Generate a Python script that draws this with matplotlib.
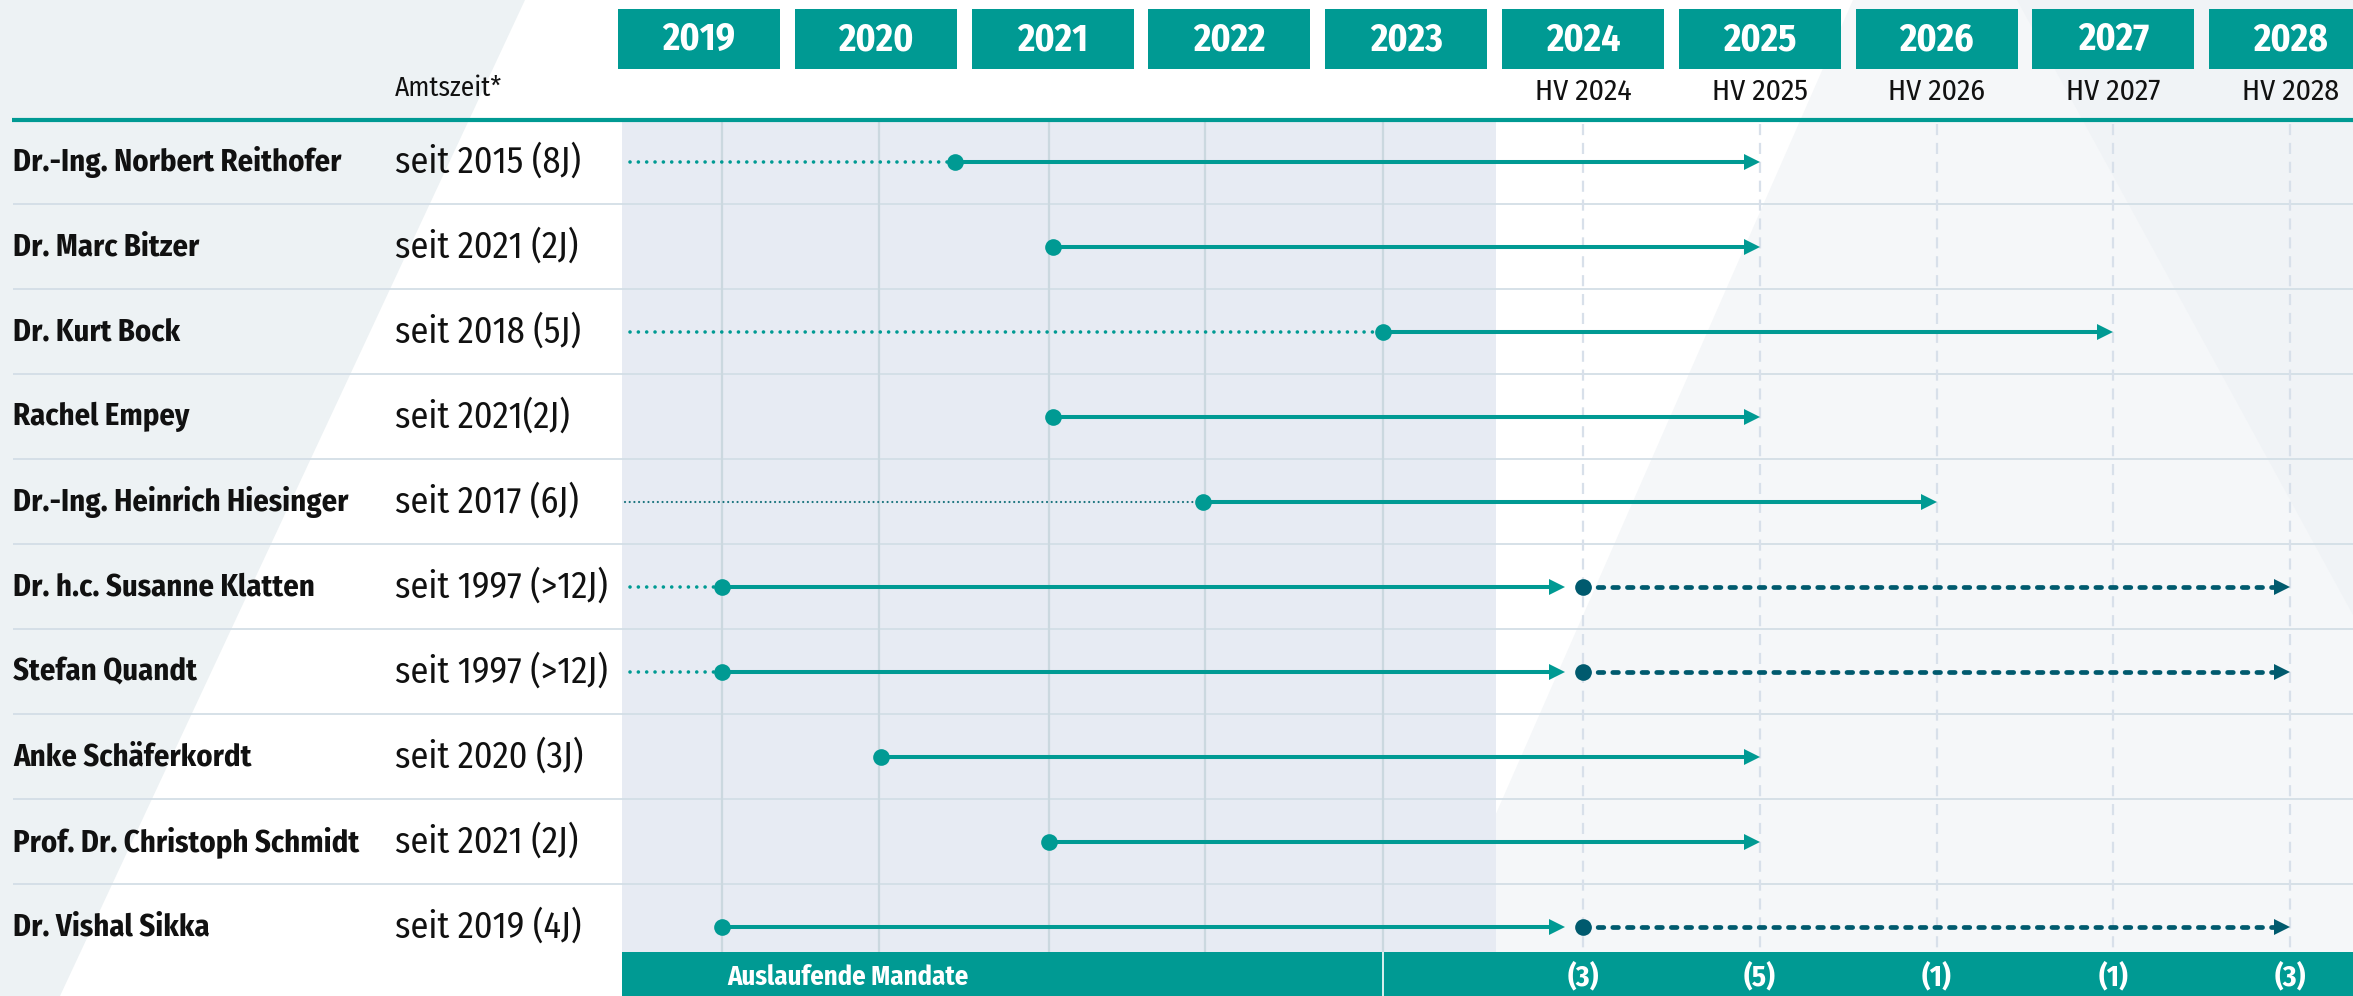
import numpy as np
import matplotlib.pyplot as plt
from matplotlib.patches import Polygon, Rectangle

plt.rcParams['font.family'] = ['Fira Sans Condensed', 'DejaVu Sans']

# Daten
names = ["Dr.-Ing. Norbert Reithofer", "Dr. Marc Bitzer", "Dr. Kurt Bock", "Rachel Empey",
         "Dr.-Ing. Heinrich Hiesinger", "Dr. h.c. Susanne Klatten", "Stefan Quandt",
         "Anke Schäferkordt", "Prof. Dr. Christoph Schmidt", "Dr. Vishal Sikka"]
tenure = ["seit 2015 (8J)", "seit 2021 (2J)", "seit 2018 (5J)", "seit 2021(2J)", "seit 2017 (6J)",
          "seit 1997 (>12J)", "seit 1997 (>12J)", "seit 2020 (3J)", "seit 2021 (2J)", "seit 2019 (4J)"]
prior = [True, False, True, False, True, True, True, False, False, False]
start = [2020.45, 2021.0, 2022.87, 2021.0, 2021.85, 2019.13, 2019.13, 2020.03, 2020.98, 2019.13]
end = [2025, 2025, 2027, 2025, 2026, 2023.9, 2023.9, 2025, 2025, 2023.9]
renew_start = [None, None, None, None, None, 2024, 2024, None, None, 2024]
renew_end = [None, None, None, None, None, 2028, 2028, None, None, 2028]
years = [2019, 2020, 2021, 2022, 2023, 2024, 2025, 2026, 2027, 2028]
hv_years = [2024, 2025, 2026, 2027, 2028]
hv_labels = ["HV 2024", "HV 2025", "HV 2026", "HV 2027", "HV 2028"]
expiring = ["(3)", "(5)", "(1)", "(1)", "(3)"]
grid_years = [2019.13, 2020.02, 2020.98, 2021.86, 2022.87]

TEAL = '#009a93'
DARK = '#005a6e'
INK = '#111111'

# Layout: Pixel -> Datenkoordinaten
W, H = 2353, 996
PPY = 176.8
X0 = 2019 - 699 / PPY
X1 = X0 + W / PPY
ROW0, ROWH = 162, 85


def xd(px):
    return X0 + px / PPY


def yd(px):
    return (px - ROW0) / ROWH


def poly(pts, color):
    ax.add_patch(Polygon([(xd(a), yd(b)) for a, b in pts], closed=True, color=color, lw=0, zorder=0))


fig = plt.figure(figsize=(W / 100, H / 100), dpi=100)
ax = fig.add_axes([0, 0, 1, 1])
ax.set_xlim(X0, X1)
ax.set_ylim(yd(H), yd(0))
ax.axis('off')

# Hintergrund
poly([(0, 0), (525, 0), (60, H), (0, H)], '#edf2f4')
poly([(1853, 0), (W, 0), (W, H), (1416, H)], '#f5f7f9')
poly([(2017, 0), (W, 0), (W, 615)], '#f0f3f6')

ax.add_patch(Rectangle((xd(622), yd(120)), xd(1496) - xd(622), yd(952) - yd(120),
                       color='#e7ebf3', lw=0, zorder=1))

# Raster
ax.hlines([i + 0.5 for i in range(len(names) - 1)], xd(13), X1, color='#d3dee6', lw=1.3, zorder=2)
ax.vlines(grid_years, yd(122), yd(952), color='#cbd8df', lw=1.6, zorder=2)
ax.vlines(hv_years, yd(124), yd(952), color='#d8e0ea', lw=1.6, linestyles=(0, (5, 3.5)), zorder=2)
ax.hlines(yd(120), xd(12), X1, color=TEAL, lw=3, zorder=3)

# Kopfzeile
bw = 0.916
for y in years:
    ax.add_patch(Rectangle((y - bw / 2, yd(9)), bw, yd(69) - yd(9), color=TEAL, lw=0, zorder=3))
    ax.text(y, yd(40), str(y), color='white', fontsize=27, fontweight='bold',
            ha='center', va='center', zorder=4)
for y, lab in zip(hv_years, hv_labels):
    ax.text(y, yd(92), lab, fontsize=21.5, ha='center', va='center', color=INK)
ax.text(xd(395), yd(88), "Amtszeit*", fontsize=19.6, ha='left', va='center', color=INK)

# Namen und Amtszeit
for i, (n, t) in enumerate(zip(names, tenure)):
    ax.text(xd(13), i, n, fontsize=22, fontweight='bold', ha='left', va='center', color=INK)
    ax.text(xd(395), i, t, fontsize=26, ha='left', va='center', color=INK)

# Mandate
head = 8 / PPY
for i in range(len(names)):
    if prior[i]:
        if i == 4:
            ax.plot([xd(625), start[i]], [i, i], color='#17727c', lw=1.6,
                    linestyle=(0, (0.01, 2.1)), dash_capstyle='round', zorder=5)
        else:
            ax.plot([xd(630), start[i]], [i, i], color=TEAL, lw=2.6,
                    linestyle=(0, (0.01, 2.3)), dash_capstyle='round', zorder=5)
    ax.plot([start[i], end[i] - head], [i, i], color=TEAL, lw=2.9, solid_capstyle='butt', zorder=6)
    ax.plot(end[i] - head, i, marker='>', ms=12, color=TEAL, mew=0, zorder=7)
    ax.plot(start[i], i, marker='o', ms=12, color=TEAL, mew=0, zorder=7)
    if renew_start[i] is not None:
        ax.plot([renew_start[i], renew_end[i] - head], [i, i], color=DARK, lw=3.4,
                linestyle=(0, (1.2, 1.9)), dash_capstyle='round', zorder=6)
        ax.plot(renew_end[i] - head, i, marker='>', ms=12, color=DARK, mew=0, zorder=7)
        ax.plot(renew_start[i], i, marker='o', ms=12, color=DARK, mew=0, zorder=7)

# Fusszeile
ax.add_patch(Rectangle((xd(622), yd(952)), X1 - xd(622), yd(H) - yd(952), color=TEAL, lw=0, zorder=8))
ax.vlines(grid_years[-1], yd(952), yd(H), color='white', lw=1.2, zorder=9)
ax.text(xd(727), yd(977), "Auslaufende Mandate", color='white', fontsize=19.2, fontweight='bold',
        ha='left', va='center', zorder=9)
for y, c in zip(hv_years, expiring):
    ax.text(y, yd(977), c, color='white', fontsize=21, fontweight='bold',
            ha='center', va='center', zorder=9)

fig.savefig('out.png', dpi=100)
